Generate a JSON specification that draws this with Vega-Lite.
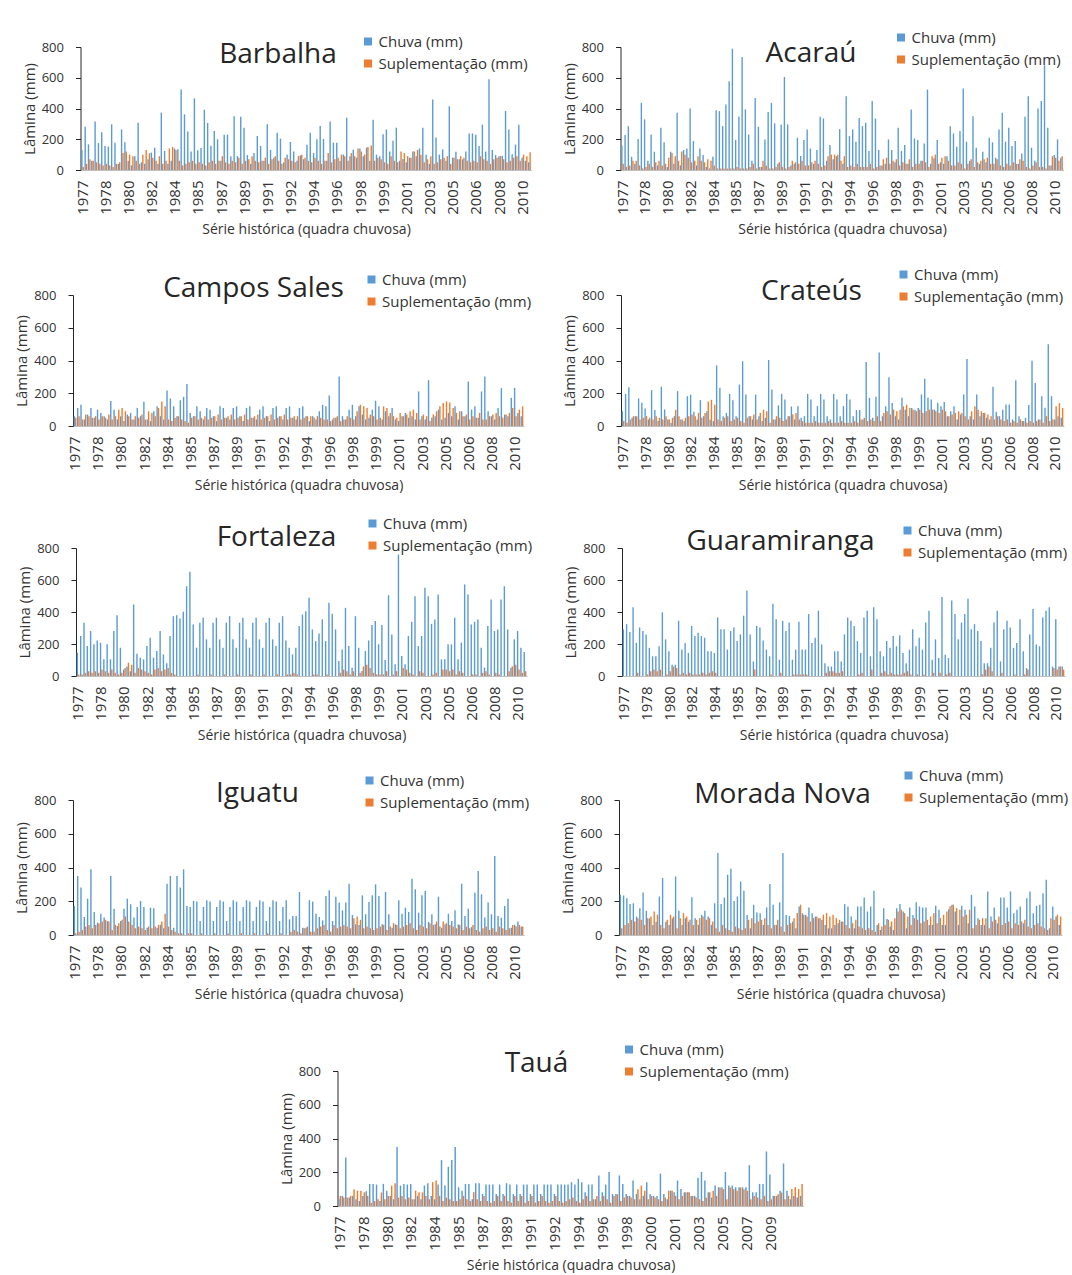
{
"$schema":"https://vega.github.io/schema/vega-lite/v6.json",
"background":"white",
"padding":{"left":14,"top":30,"right":0,"bottom":0},
"config":{
 "font":"Open Sans",
 "view":{"stroke":null},
 "title":{"anchor":"middle","frame":"group","baseline":"middle","fontSize":28,"fontWeight":"normal","color":"#262626","font":"Open Sans"},
 "axisX":{"labelAngle":-90,"labelFontSize":15,"ticks":false,"domainColor":"#bfbfbf","titleFontSize":14,"titleFontWeight":"normal","labelPadding":10,"titlePadding":8,"grid":false,"labelColor":"#333333","titleColor":"#333333","labelOverlap":false,"labelFlush":false},
 "axisY":{"grid":false,"tickSize":5,"labelPadding":12,"labelFontSize":13,"domainColor":"#262626","tickColor":"#262626","labelColor":"#333333","titleColor":"#333333","titleFontSize":15,"titleFontWeight":"normal","titlePadding":4},
 "legend":{"orient":"none","symbolType":"square","symbolSize":64,"labelFontSize":15,"rowPadding":6,"labelOffset":3,"symbolStrokeWidth":0,"labelColor":"#333333"}
},
"datasets":{
"Barbalha":[{"i":0,"c":130,"p":20},{"i":1,"c":282,"p":40},{"i":2,"c":167,"p":70},{"i":3,"c":60,"p":60},{"i":4,"c":316,"p":50},{"i":5,"c":175,"p":40},{"i":6,"c":245,"p":30},{"i":7,"c":156,"p":40},{"i":8,"c":152,"p":30},{"i":9,"c":297,"p":20},{"i":10,"c":178,"p":40},{"i":11,"c":40,"p":50},{"i":12,"c":264,"p":110},{"i":13,"c":180,"p":120},{"i":14,"c":60,"p":100},{"i":15,"c":30,"p":90},{"i":16,"c":90,"p":60},{"i":17,"c":308,"p":40},{"i":18,"c":50,"p":100},{"i":19,"c":40,"p":130},{"i":20,"c":70,"p":110},{"i":21,"c":113,"p":80},{"i":22,"c":145,"p":60},{"i":23,"c":40,"p":90},{"i":24,"c":373,"p":40},{"i":25,"c":124,"p":60},{"i":26,"c":40,"p":140},{"i":27,"c":60,"p":150},{"i":28,"c":140,"p":130},{"i":29,"c":135,"p":60},{"i":30,"c":524,"p":30},{"i":31,"c":362,"p":40},{"i":32,"c":251,"p":50},{"i":33,"c":120,"p":60},{"i":34,"c":466,"p":40},{"i":35,"c":128,"p":50},{"i":36,"c":143,"p":40},{"i":37,"c":392,"p":30},{"i":38,"c":306,"p":50},{"i":39,"c":158,"p":60},{"i":40,"c":254,"p":40},{"i":41,"c":200,"p":60},{"i":42,"c":60,"p":90},{"i":43,"c":230,"p":50},{"i":44,"c":230,"p":40},{"i":45,"c":90,"p":60},{"i":46,"c":349,"p":50},{"i":47,"c":90,"p":80},{"i":48,"c":347,"p":40},{"i":49,"c":275,"p":60},{"i":50,"c":97,"p":70},{"i":51,"c":40,"p":90},{"i":52,"c":110,"p":60},{"i":53,"c":221,"p":50},{"i":54,"c":156,"p":60},{"i":55,"c":60,"p":80},{"i":56,"c":297,"p":40},{"i":57,"c":130,"p":70},{"i":58,"c":80,"p":90},{"i":59,"c":243,"p":60},{"i":60,"c":204,"p":40},{"i":61,"c":50,"p":80},{"i":62,"c":100,"p":70},{"i":63,"c":182,"p":60},{"i":64,"c":120,"p":50},{"i":65,"c":60,"p":90},{"i":66,"c":95,"p":100},{"i":67,"c":70,"p":80},{"i":68,"c":165,"p":60},{"i":69,"c":243,"p":50},{"i":70,"c":110,"p":80},{"i":71,"c":200,"p":60},{"i":72,"c":286,"p":40},{"i":73,"c":202,"p":60},{"i":74,"c":60,"p":110},{"i":75,"c":316,"p":50},{"i":76,"c":178,"p":70},{"i":77,"c":178,"p":80},{"i":78,"c":60,"p":100},{"i":79,"c":100,"p":90},{"i":80,"c":340,"p":60},{"i":81,"c":90,"p":110},{"i":82,"c":132,"p":90},{"i":83,"c":80,"p":140},{"i":84,"c":140,"p":120},{"i":85,"c":90,"p":100},{"i":86,"c":145,"p":150},{"i":87,"c":60,"p":160},{"i":88,"c":327,"p":60},{"i":89,"c":100,"p":80},{"i":90,"c":90,"p":70},{"i":91,"c":232,"p":50},{"i":92,"c":264,"p":40},{"i":93,"c":120,"p":90},{"i":94,"c":191,"p":60},{"i":95,"c":275,"p":50},{"i":96,"c":60,"p":120},{"i":97,"c":72,"p":110},{"i":98,"c":50,"p":90},{"i":99,"c":80,"p":80},{"i":100,"c":120,"p":120},{"i":101,"c":90,"p":130},{"i":102,"c":140,"p":100},{"i":103,"c":275,"p":50},{"i":104,"c":100,"p":70},{"i":105,"c":40,"p":90},{"i":106,"c":459,"p":40},{"i":107,"c":212,"p":50},{"i":108,"c":100,"p":70},{"i":109,"c":134,"p":80},{"i":110,"c":60,"p":90},{"i":111,"c":414,"p":40},{"i":112,"c":80,"p":80},{"i":113,"c":119,"p":70},{"i":114,"c":70,"p":90},{"i":115,"c":69,"p":80},{"i":116,"c":120,"p":60},{"i":117,"c":238,"p":50},{"i":118,"c":238,"p":60},{"i":119,"c":230,"p":50},{"i":120,"c":156,"p":90},{"i":121,"c":295,"p":70},{"i":122,"c":120,"p":60},{"i":123,"c":590,"p":40},{"i":124,"c":130,"p":70},{"i":125,"c":97,"p":80},{"i":126,"c":90,"p":90},{"i":127,"c":91,"p":70},{"i":128,"c":384,"p":50},{"i":129,"c":264,"p":60},{"i":130,"c":102,"p":80},{"i":131,"c":165,"p":90},{"i":132,"c":295,"p":60},{"i":133,"c":80,"p":100},{"i":134,"c":60,"p":90},{"i":135,"c":50,"p":115}],
"Acarau":[{"i":0,"c":160,"p":40},{"i":1,"c":227,"p":20},{"i":2,"c":285,"p":30},{"i":3,"c":86,"p":60},{"i":4,"c":40,"p":60},{"i":5,"c":201,"p":30},{"i":6,"c":437,"p":10},{"i":7,"c":329,"p":20},{"i":8,"c":60,"p":40},{"i":9,"c":231,"p":20},{"i":10,"c":119,"p":50},{"i":11,"c":30,"p":60},{"i":12,"c":275,"p":30},{"i":13,"c":180,"p":40},{"i":14,"c":20,"p":80},{"i":15,"c":119,"p":110},{"i":16,"c":40,"p":90},{"i":17,"c":372,"p":60},{"i":18,"c":30,"p":120},{"i":19,"c":130,"p":100},{"i":20,"c":140,"p":80},{"i":21,"c":400,"p":50},{"i":22,"c":188,"p":60},{"i":23,"c":30,"p":90},{"i":24,"c":140,"p":60},{"i":25,"c":97,"p":50},{"i":26,"c":20,"p":70},{"i":27,"c":10,"p":60},{"i":28,"c":86,"p":30},{"i":29,"c":389,"p":10},{"i":30,"c":383,"p":10},{"i":31,"c":285,"p":10},{"i":32,"c":426,"p":10},{"i":33,"c":577,"p":10},{"i":34,"c":789,"p":10},{"i":35,"c":195,"p":20},{"i":36,"c":348,"p":10},{"i":37,"c":735,"p":10},{"i":38,"c":394,"p":10},{"i":39,"c":231,"p":20},{"i":40,"c":60,"p":40},{"i":41,"c":469,"p":10},{"i":42,"c":281,"p":20},{"i":43,"c":20,"p":60},{"i":44,"c":199,"p":30},{"i":45,"c":378,"p":10},{"i":46,"c":437,"p":10},{"i":47,"c":303,"p":20},{"i":48,"c":40,"p":50},{"i":49,"c":296,"p":20},{"i":50,"c":605,"p":10},{"i":51,"c":296,"p":20},{"i":52,"c":30,"p":60},{"i":53,"c":40,"p":50},{"i":54,"c":210,"p":40},{"i":55,"c":91,"p":60},{"i":56,"c":195,"p":30},{"i":57,"c":264,"p":30},{"i":58,"c":140,"p":50},{"i":59,"c":40,"p":60},{"i":60,"c":130,"p":40},{"i":61,"c":346,"p":20},{"i":62,"c":335,"p":30},{"i":63,"c":60,"p":90},{"i":64,"c":162,"p":100},{"i":65,"c":70,"p":100},{"i":66,"c":90,"p":100},{"i":67,"c":266,"p":60},{"i":68,"c":40,"p":90},{"i":69,"c":480,"p":20},{"i":70,"c":220,"p":30},{"i":71,"c":264,"p":20},{"i":72,"c":184,"p":40},{"i":73,"c":339,"p":20},{"i":74,"c":285,"p":20},{"i":75,"c":307,"p":20},{"i":76,"c":123,"p":40},{"i":77,"c":448,"p":10},{"i":78,"c":335,"p":20},{"i":79,"c":130,"p":30},{"i":80,"c":30,"p":70},{"i":81,"c":40,"p":80},{"i":82,"c":199,"p":40},{"i":83,"c":130,"p":60},{"i":84,"c":50,"p":70},{"i":85,"c":275,"p":30},{"i":86,"c":123,"p":50},{"i":87,"c":162,"p":40},{"i":88,"c":40,"p":70},{"i":89,"c":394,"p":20},{"i":90,"c":205,"p":40},{"i":91,"c":195,"p":40},{"i":92,"c":60,"p":60},{"i":93,"c":173,"p":50},{"i":94,"c":523,"p":20},{"i":95,"c":40,"p":90},{"i":96,"c":76,"p":100},{"i":97,"c":195,"p":40},{"i":98,"c":50,"p":80},{"i":99,"c":40,"p":90},{"i":100,"c":90,"p":60},{"i":101,"c":285,"p":30},{"i":102,"c":238,"p":30},{"i":103,"c":151,"p":50},{"i":104,"c":253,"p":40},{"i":105,"c":530,"p":10},{"i":106,"c":184,"p":40},{"i":107,"c":60,"p":70},{"i":108,"c":350,"p":20},{"i":109,"c":145,"p":50},{"i":110,"c":40,"p":60},{"i":111,"c":119,"p":70},{"i":112,"c":50,"p":80},{"i":113,"c":210,"p":40},{"i":114,"c":180,"p":40},{"i":115,"c":80,"p":70},{"i":116,"c":264,"p":30},{"i":117,"c":372,"p":20},{"i":118,"c":184,"p":40},{"i":119,"c":275,"p":30},{"i":120,"c":156,"p":50},{"i":121,"c":188,"p":40},{"i":122,"c":40,"p":70},{"i":123,"c":108,"p":60},{"i":124,"c":346,"p":20},{"i":125,"c":480,"p":10},{"i":126,"c":145,"p":30},{"i":127,"c":60,"p":50},{"i":128,"c":400,"p":20},{"i":129,"c":448,"p":20},{"i":130,"c":681,"p":10},{"i":131,"c":275,"p":30},{"i":132,"c":30,"p":90},{"i":133,"c":97,"p":80},{"i":134,"c":199,"p":60},{"i":135,"c":80,"p":90}],
"CamposSales":[{"i":0,"c":60,"p":50},{"i":1,"c":110,"p":60},{"i":2,"c":130,"p":40},{"i":3,"c":40,"p":70},{"i":4,"c":70,"p":60},{"i":5,"c":110,"p":50},{"i":6,"c":50,"p":60},{"i":7,"c":100,"p":40},{"i":8,"c":80,"p":60},{"i":9,"c":60,"p":50},{"i":10,"c":40,"p":70},{"i":11,"c":152,"p":40},{"i":12,"c":100,"p":60},{"i":13,"c":40,"p":100},{"i":14,"c":60,"p":110},{"i":15,"c":30,"p":90},{"i":16,"c":70,"p":60},{"i":17,"c":80,"p":40},{"i":18,"c":40,"p":60},{"i":19,"c":110,"p":50},{"i":20,"c":60,"p":70},{"i":21,"c":148,"p":40},{"i":22,"c":40,"p":90},{"i":23,"c":30,"p":80},{"i":24,"c":90,"p":60},{"i":25,"c":120,"p":110},{"i":26,"c":60,"p":150},{"i":27,"c":40,"p":120},{"i":28,"c":217,"p":40},{"i":29,"c":168,"p":30},{"i":30,"c":120,"p":50},{"i":31,"c":60,"p":60},{"i":32,"c":158,"p":40},{"i":33,"c":178,"p":30},{"i":34,"c":256,"p":20},{"i":35,"c":80,"p":50},{"i":36,"c":60,"p":60},{"i":37,"c":120,"p":40},{"i":38,"c":90,"p":50},{"i":39,"c":40,"p":60},{"i":40,"c":110,"p":40},{"i":41,"c":100,"p":50},{"i":42,"c":60,"p":60},{"i":43,"c":30,"p":70},{"i":44,"c":120,"p":40},{"i":45,"c":110,"p":50},{"i":46,"c":50,"p":60},{"i":47,"c":40,"p":70},{"i":48,"c":110,"p":40},{"i":49,"c":120,"p":50},{"i":50,"c":60,"p":60},{"i":51,"c":30,"p":70},{"i":52,"c":110,"p":40},{"i":53,"c":120,"p":50},{"i":54,"c":50,"p":60},{"i":55,"c":40,"p":70},{"i":56,"c":100,"p":40},{"i":57,"c":120,"p":50},{"i":58,"c":60,"p":60},{"i":59,"c":30,"p":70},{"i":60,"c":110,"p":40},{"i":61,"c":120,"p":50},{"i":62,"c":60,"p":60},{"i":63,"c":40,"p":70},{"i":64,"c":110,"p":40},{"i":65,"c":120,"p":50},{"i":66,"c":50,"p":60},{"i":67,"c":40,"p":60},{"i":68,"c":110,"p":40},{"i":69,"c":120,"p":50},{"i":70,"c":60,"p":60},{"i":71,"c":30,"p":60},{"i":72,"c":60,"p":50},{"i":73,"c":40,"p":60},{"i":74,"c":90,"p":50},{"i":75,"c":130,"p":40},{"i":76,"c":120,"p":40},{"i":77,"c":187,"p":30},{"i":78,"c":40,"p":50},{"i":79,"c":50,"p":60},{"i":80,"c":302,"p":30},{"i":81,"c":60,"p":40},{"i":82,"c":40,"p":60},{"i":83,"c":100,"p":50},{"i":84,"c":130,"p":40},{"i":85,"c":60,"p":90},{"i":86,"c":120,"p":130},{"i":87,"c":70,"p":120},{"i":88,"c":40,"p":110},{"i":89,"c":50,"p":70},{"i":90,"c":100,"p":60},{"i":91,"c":154,"p":40},{"i":92,"c":120,"p":50},{"i":93,"c":40,"p":120},{"i":94,"c":90,"p":110},{"i":95,"c":60,"p":80},{"i":96,"c":110,"p":60},{"i":97,"c":40,"p":50},{"i":98,"c":30,"p":80},{"i":99,"c":60,"p":60},{"i":100,"c":80,"p":70},{"i":101,"c":50,"p":90},{"i":102,"c":60,"p":100},{"i":103,"c":40,"p":80},{"i":104,"c":211,"p":40},{"i":105,"c":60,"p":70},{"i":106,"c":40,"p":60},{"i":107,"c":280,"p":30},{"i":108,"c":50,"p":70},{"i":109,"c":60,"p":90},{"i":110,"c":100,"p":120},{"i":111,"c":40,"p":140},{"i":112,"c":50,"p":150},{"i":113,"c":80,"p":144},{"i":114,"c":60,"p":110},{"i":115,"c":120,"p":80},{"i":116,"c":40,"p":90},{"i":117,"c":90,"p":60},{"i":118,"c":60,"p":70},{"i":119,"c":272,"p":40},{"i":120,"c":100,"p":60},{"i":121,"c":120,"p":50},{"i":122,"c":50,"p":80},{"i":123,"c":211,"p":40},{"i":124,"c":302,"p":40},{"i":125,"c":90,"p":60},{"i":126,"c":60,"p":70},{"i":127,"c":40,"p":80},{"i":128,"c":110,"p":60},{"i":129,"c":231,"p":50},{"i":130,"c":70,"p":70},{"i":131,"c":60,"p":80},{"i":132,"c":172,"p":110},{"i":133,"c":233,"p":60},{"i":134,"c":80,"p":100},{"i":135,"c":60,"p":120}],
"Crateus":[{"i":0,"c":90,"p":30},{"i":1,"c":196,"p":20},{"i":2,"c":237,"p":40},{"i":3,"c":50,"p":60},{"i":4,"c":60,"p":60},{"i":5,"c":168,"p":40},{"i":6,"c":142,"p":50},{"i":7,"c":107,"p":60},{"i":8,"c":40,"p":50},{"i":9,"c":219,"p":40},{"i":10,"c":97,"p":60},{"i":11,"c":30,"p":50},{"i":12,"c":241,"p":40},{"i":13,"c":101,"p":60},{"i":14,"c":40,"p":40},{"i":15,"c":20,"p":50},{"i":16,"c":60,"p":100},{"i":17,"c":213,"p":60},{"i":18,"c":40,"p":40},{"i":19,"c":30,"p":50},{"i":20,"c":182,"p":60},{"i":21,"c":192,"p":70},{"i":22,"c":87,"p":60},{"i":23,"c":40,"p":80},{"i":24,"c":158,"p":50},{"i":25,"c":60,"p":80},{"i":26,"c":90,"p":150},{"i":27,"c":40,"p":160},{"i":28,"c":30,"p":130},{"i":29,"c":370,"p":40},{"i":30,"c":233,"p":30},{"i":31,"c":60,"p":50},{"i":32,"c":80,"p":60},{"i":33,"c":196,"p":30},{"i":34,"c":158,"p":40},{"i":35,"c":60,"p":50},{"i":36,"c":253,"p":30},{"i":37,"c":395,"p":20},{"i":38,"c":192,"p":50},{"i":39,"c":60,"p":60},{"i":40,"c":40,"p":70},{"i":41,"c":192,"p":40},{"i":42,"c":60,"p":80},{"i":43,"c":30,"p":100},{"i":44,"c":50,"p":90},{"i":45,"c":403,"p":20},{"i":46,"c":223,"p":40},{"i":47,"c":40,"p":60},{"i":48,"c":126,"p":50},{"i":49,"c":196,"p":30},{"i":50,"c":162,"p":40},{"i":51,"c":60,"p":60},{"i":52,"c":119,"p":70},{"i":53,"c":40,"p":80},{"i":54,"c":121,"p":40},{"i":55,"c":50,"p":30},{"i":56,"c":60,"p":20},{"i":57,"c":196,"p":20},{"i":58,"c":162,"p":20},{"i":59,"c":60,"p":30},{"i":60,"c":121,"p":20},{"i":61,"c":196,"p":20},{"i":62,"c":162,"p":20},{"i":63,"c":60,"p":30},{"i":64,"c":40,"p":20},{"i":65,"c":196,"p":20},{"i":66,"c":162,"p":20},{"i":67,"c":60,"p":30},{"i":68,"c":121,"p":20},{"i":69,"c":196,"p":20},{"i":70,"c":162,"p":20},{"i":71,"c":60,"p":30},{"i":72,"c":97,"p":20},{"i":73,"c":97,"p":40},{"i":74,"c":40,"p":50},{"i":75,"c":391,"p":30},{"i":76,"c":172,"p":40},{"i":77,"c":50,"p":30},{"i":78,"c":178,"p":60},{"i":79,"c":449,"p":30},{"i":80,"c":60,"p":80},{"i":81,"c":121,"p":90},{"i":82,"c":298,"p":70},{"i":83,"c":140,"p":100},{"i":84,"c":60,"p":90},{"i":85,"c":40,"p":100},{"i":86,"c":172,"p":120},{"i":87,"c":100,"p":130},{"i":88,"c":60,"p":110},{"i":89,"c":110,"p":100},{"i":90,"c":100,"p":90},{"i":91,"c":110,"p":100},{"i":92,"c":192,"p":80},{"i":93,"c":289,"p":90},{"i":94,"c":172,"p":100},{"i":95,"c":162,"p":100},{"i":96,"c":100,"p":90},{"i":97,"c":142,"p":80},{"i":98,"c":120,"p":100},{"i":99,"c":146,"p":90},{"i":100,"c":60,"p":60},{"i":101,"c":90,"p":70},{"i":102,"c":121,"p":80},{"i":103,"c":40,"p":90},{"i":104,"c":70,"p":80},{"i":105,"c":192,"p":60},{"i":106,"c":409,"p":40},{"i":107,"c":60,"p":90},{"i":108,"c":40,"p":120},{"i":109,"c":192,"p":100},{"i":110,"c":60,"p":90},{"i":111,"c":80,"p":80},{"i":112,"c":50,"p":70},{"i":113,"c":40,"p":60},{"i":114,"c":239,"p":40},{"i":115,"c":87,"p":60},{"i":116,"c":60,"p":40},{"i":117,"c":100,"p":30},{"i":118,"c":132,"p":40},{"i":119,"c":132,"p":20},{"i":120,"c":40,"p":30},{"i":121,"c":279,"p":20},{"i":122,"c":60,"p":40},{"i":123,"c":30,"p":30},{"i":124,"c":50,"p":20},{"i":125,"c":128,"p":30},{"i":126,"c":399,"p":20},{"i":127,"c":263,"p":30},{"i":128,"c":40,"p":40},{"i":129,"c":182,"p":20},{"i":130,"c":111,"p":60},{"i":131,"c":500,"p":30},{"i":132,"c":182,"p":40},{"i":133,"c":40,"p":120},{"i":134,"c":60,"p":140},{"i":135,"c":50,"p":110}],
"Fortaleza":[{"i":0,"c":146,"p":10},{"i":1,"c":250,"p":10},{"i":2,"c":333,"p":20},{"i":3,"c":187,"p":30},{"i":4,"c":281,"p":20},{"i":5,"c":198,"p":30},{"i":6,"c":222,"p":20},{"i":7,"c":208,"p":40},{"i":8,"c":104,"p":30},{"i":9,"c":198,"p":20},{"i":10,"c":104,"p":40},{"i":11,"c":281,"p":20},{"i":12,"c":380,"p":10},{"i":13,"c":177,"p":20},{"i":14,"c":40,"p":50},{"i":15,"c":60,"p":83},{"i":16,"c":30,"p":70},{"i":17,"c":447,"p":20},{"i":18,"c":139,"p":50},{"i":19,"c":114,"p":40},{"i":20,"c":104,"p":30},{"i":21,"c":187,"p":20},{"i":22,"c":239,"p":10},{"i":23,"c":114,"p":40},{"i":24,"c":156,"p":50},{"i":25,"c":281,"p":30},{"i":26,"c":135,"p":40},{"i":27,"c":80,"p":50},{"i":28,"c":250,"p":20},{"i":29,"c":374,"p":10},{"i":30,"c":380,"p":0},{"i":31,"c":360,"p":0},{"i":32,"c":401,"p":0},{"i":33,"c":561,"p":0},{"i":34,"c":651,"p":0},{"i":35,"c":322,"p":0},{"i":36,"c":177,"p":10},{"i":37,"c":333,"p":0},{"i":38,"c":364,"p":0},{"i":39,"c":229,"p":0},{"i":40,"c":177,"p":10},{"i":41,"c":333,"p":0},{"i":42,"c":364,"p":0},{"i":43,"c":229,"p":0},{"i":44,"c":177,"p":10},{"i":45,"c":333,"p":0},{"i":46,"c":374,"p":0},{"i":47,"c":229,"p":0},{"i":48,"c":177,"p":10},{"i":49,"c":333,"p":0},{"i":50,"c":364,"p":0},{"i":51,"c":229,"p":0},{"i":52,"c":177,"p":10},{"i":53,"c":333,"p":0},{"i":54,"c":364,"p":0},{"i":55,"c":229,"p":0},{"i":56,"c":177,"p":10},{"i":57,"c":333,"p":0},{"i":58,"c":364,"p":0},{"i":59,"c":229,"p":0},{"i":60,"c":187,"p":10},{"i":61,"c":333,"p":0},{"i":62,"c":374,"p":0},{"i":63,"c":222,"p":10},{"i":64,"c":177,"p":10},{"i":65,"c":135,"p":20},{"i":66,"c":177,"p":10},{"i":67,"c":312,"p":0},{"i":68,"c":384,"p":0},{"i":69,"c":405,"p":0},{"i":70,"c":489,"p":0},{"i":71,"c":291,"p":10},{"i":72,"c":218,"p":10},{"i":73,"c":266,"p":0},{"i":74,"c":354,"p":0},{"i":75,"c":218,"p":10},{"i":76,"c":458,"p":0},{"i":77,"c":389,"p":0},{"i":78,"c":291,"p":0},{"i":79,"c":94,"p":20},{"i":80,"c":166,"p":40},{"i":81,"c":426,"p":30},{"i":82,"c":187,"p":10},{"i":83,"c":52,"p":30},{"i":84,"c":374,"p":0},{"i":85,"c":177,"p":20},{"i":86,"c":31,"p":60},{"i":87,"c":156,"p":70},{"i":88,"c":222,"p":50},{"i":89,"c":318,"p":20},{"i":90,"c":343,"p":10},{"i":91,"c":198,"p":10},{"i":92,"c":318,"p":10},{"i":93,"c":100,"p":30},{"i":94,"c":505,"p":0},{"i":95,"c":260,"p":10},{"i":96,"c":73,"p":30},{"i":97,"c":759,"p":0},{"i":98,"c":125,"p":50},{"i":99,"c":73,"p":40},{"i":100,"c":250,"p":20},{"i":101,"c":339,"p":10},{"i":102,"c":499,"p":0},{"i":103,"c":187,"p":30},{"i":104,"c":250,"p":20},{"i":105,"c":551,"p":0},{"i":106,"c":499,"p":0},{"i":107,"c":326,"p":10},{"i":108,"c":353,"p":20},{"i":109,"c":509,"p":0},{"i":110,"c":104,"p":40},{"i":111,"c":104,"p":40},{"i":112,"c":198,"p":30},{"i":113,"c":198,"p":40},{"i":114,"c":364,"p":10},{"i":115,"c":104,"p":30},{"i":116,"c":208,"p":20},{"i":117,"c":572,"p":0},{"i":118,"c":509,"p":0},{"i":119,"c":322,"p":10},{"i":120,"c":339,"p":10},{"i":121,"c":353,"p":0},{"i":122,"c":177,"p":20},{"i":123,"c":52,"p":30},{"i":124,"c":312,"p":10},{"i":125,"c":478,"p":0},{"i":126,"c":281,"p":20},{"i":127,"c":291,"p":10},{"i":128,"c":478,"p":0},{"i":129,"c":561,"p":0},{"i":130,"c":291,"p":30},{"i":131,"c":52,"p":60},{"i":132,"c":229,"p":70},{"i":133,"c":281,"p":40},{"i":134,"c":177,"p":20},{"i":135,"c":150,"p":30}],
"Guaramiranga":[{"i":0,"c":292,"p":0},{"i":1,"c":324,"p":0},{"i":2,"c":275,"p":0},{"i":3,"c":430,"p":0},{"i":4,"c":207,"p":20},{"i":5,"c":303,"p":0},{"i":6,"c":281,"p":0},{"i":7,"c":260,"p":10},{"i":8,"c":176,"p":30},{"i":9,"c":123,"p":40},{"i":10,"c":123,"p":30},{"i":11,"c":186,"p":40},{"i":12,"c":398,"p":0},{"i":13,"c":229,"p":10},{"i":14,"c":154,"p":30},{"i":15,"c":70,"p":60},{"i":16,"c":70,"p":50},{"i":17,"c":345,"p":10},{"i":18,"c":165,"p":20},{"i":19,"c":207,"p":10},{"i":20,"c":144,"p":20},{"i":21,"c":313,"p":10},{"i":22,"c":250,"p":10},{"i":23,"c":271,"p":10},{"i":24,"c":250,"p":20},{"i":25,"c":239,"p":10},{"i":26,"c":154,"p":20},{"i":27,"c":154,"p":30},{"i":28,"c":144,"p":20},{"i":29,"c":366,"p":0},{"i":30,"c":292,"p":0},{"i":31,"c":292,"p":0},{"i":32,"c":165,"p":0},{"i":33,"c":281,"p":0},{"i":34,"c":303,"p":0},{"i":35,"c":218,"p":0},{"i":36,"c":260,"p":0},{"i":37,"c":377,"p":0},{"i":38,"c":535,"p":0},{"i":39,"c":260,"p":0},{"i":40,"c":91,"p":40},{"i":41,"c":313,"p":0},{"i":42,"c":303,"p":0},{"i":43,"c":222,"p":0},{"i":44,"c":165,"p":0},{"i":45,"c":123,"p":10},{"i":46,"c":451,"p":0},{"i":47,"c":355,"p":0},{"i":48,"c":102,"p":20},{"i":49,"c":345,"p":0},{"i":50,"c":281,"p":0},{"i":51,"c":334,"p":0},{"i":52,"c":102,"p":10},{"i":53,"c":165,"p":10},{"i":54,"c":339,"p":10},{"i":55,"c":165,"p":10},{"i":56,"c":165,"p":10},{"i":57,"c":387,"p":0},{"i":58,"c":207,"p":0},{"i":59,"c":239,"p":0},{"i":60,"c":408,"p":0},{"i":61,"c":197,"p":0},{"i":62,"c":80,"p":20},{"i":63,"c":59,"p":30},{"i":64,"c":59,"p":30},{"i":65,"c":154,"p":20},{"i":66,"c":154,"p":20},{"i":67,"c":91,"p":30},{"i":68,"c":260,"p":0},{"i":69,"c":366,"p":0},{"i":70,"c":345,"p":0},{"i":71,"c":313,"p":0},{"i":72,"c":218,"p":10},{"i":73,"c":144,"p":20},{"i":74,"c":366,"p":0},{"i":75,"c":408,"p":0},{"i":76,"c":123,"p":40},{"i":77,"c":430,"p":0},{"i":78,"c":355,"p":0},{"i":79,"c":154,"p":20},{"i":80,"c":123,"p":30},{"i":81,"c":218,"p":10},{"i":82,"c":176,"p":20},{"i":83,"c":250,"p":10},{"i":84,"c":186,"p":10},{"i":85,"c":254,"p":10},{"i":86,"c":144,"p":20},{"i":87,"c":80,"p":30},{"i":88,"c":165,"p":10},{"i":89,"c":292,"p":0},{"i":90,"c":186,"p":10},{"i":91,"c":239,"p":0},{"i":92,"c":165,"p":10},{"i":93,"c":334,"p":0},{"i":94,"c":408,"p":0},{"i":95,"c":102,"p":20},{"i":96,"c":229,"p":0},{"i":97,"c":112,"p":20},{"i":98,"c":493,"p":0},{"i":99,"c":133,"p":10},{"i":100,"c":112,"p":20},{"i":101,"c":472,"p":0},{"i":102,"c":387,"p":0},{"i":103,"c":229,"p":0},{"i":104,"c":334,"p":0},{"i":105,"c":387,"p":0},{"i":106,"c":483,"p":0},{"i":107,"c":292,"p":0},{"i":108,"c":324,"p":0},{"i":109,"c":281,"p":0},{"i":110,"c":218,"p":10},{"i":111,"c":80,"p":40},{"i":112,"c":80,"p":60},{"i":113,"c":176,"p":30},{"i":114,"c":334,"p":0},{"i":115,"c":408,"p":0},{"i":116,"c":91,"p":20},{"i":117,"c":292,"p":0},{"i":118,"c":345,"p":0},{"i":119,"c":303,"p":0},{"i":120,"c":176,"p":10},{"i":121,"c":207,"p":0},{"i":122,"c":355,"p":0},{"i":123,"c":154,"p":10},{"i":124,"c":49,"p":40},{"i":125,"c":260,"p":0},{"i":126,"c":419,"p":0},{"i":127,"c":197,"p":0},{"i":128,"c":186,"p":0},{"i":129,"c":366,"p":0},{"i":130,"c":408,"p":0},{"i":131,"c":430,"p":0},{"i":132,"c":59,"p":50},{"i":133,"c":355,"p":40},{"i":134,"c":59,"p":60},{"i":135,"c":60,"p":40}],
"Iguatu":[{"i":0,"c":172,"p":10},{"i":1,"c":350,"p":20},{"i":2,"c":281,"p":30},{"i":3,"c":107,"p":50},{"i":4,"c":215,"p":60},{"i":5,"c":389,"p":40},{"i":6,"c":136,"p":60},{"i":7,"c":73,"p":70},{"i":8,"c":126,"p":80},{"i":9,"c":103,"p":90},{"i":10,"c":83,"p":80},{"i":11,"c":350,"p":30},{"i":12,"c":156,"p":60},{"i":13,"c":53,"p":70},{"i":14,"c":83,"p":90},{"i":15,"c":156,"p":110},{"i":16,"c":215,"p":80},{"i":17,"c":182,"p":60},{"i":18,"c":103,"p":40},{"i":19,"c":166,"p":50},{"i":20,"c":202,"p":40},{"i":21,"c":166,"p":30},{"i":22,"c":43,"p":50},{"i":23,"c":162,"p":40},{"i":24,"c":158,"p":50},{"i":25,"c":43,"p":60},{"i":26,"c":60,"p":80},{"i":27,"c":40,"p":126},{"i":28,"c":304,"p":50},{"i":29,"c":350,"p":30},{"i":30,"c":43,"p":20},{"i":31,"c":350,"p":10},{"i":32,"c":281,"p":10},{"i":33,"c":389,"p":0},{"i":34,"c":172,"p":10},{"i":35,"c":166,"p":10},{"i":36,"c":202,"p":0},{"i":37,"c":198,"p":0},{"i":38,"c":83,"p":10},{"i":39,"c":166,"p":0},{"i":40,"c":206,"p":0},{"i":41,"c":198,"p":0},{"i":42,"c":83,"p":10},{"i":43,"c":166,"p":0},{"i":44,"c":206,"p":0},{"i":45,"c":198,"p":0},{"i":46,"c":83,"p":10},{"i":47,"c":166,"p":0},{"i":48,"c":206,"p":0},{"i":49,"c":198,"p":0},{"i":50,"c":83,"p":10},{"i":51,"c":166,"p":0},{"i":52,"c":206,"p":0},{"i":53,"c":198,"p":0},{"i":54,"c":83,"p":10},{"i":55,"c":166,"p":0},{"i":56,"c":206,"p":0},{"i":57,"c":198,"p":0},{"i":58,"c":83,"p":10},{"i":59,"c":166,"p":0},{"i":60,"c":206,"p":0},{"i":61,"c":198,"p":0},{"i":62,"c":83,"p":10},{"i":63,"c":166,"p":0},{"i":64,"c":206,"p":0},{"i":65,"c":93,"p":20},{"i":66,"c":113,"p":30},{"i":67,"c":113,"p":20},{"i":68,"c":255,"p":10},{"i":69,"c":43,"p":40},{"i":70,"c":43,"p":50},{"i":71,"c":206,"p":20},{"i":72,"c":198,"p":20},{"i":73,"c":126,"p":40},{"i":74,"c":107,"p":50},{"i":75,"c":87,"p":60},{"i":76,"c":231,"p":30},{"i":77,"c":265,"p":20},{"i":78,"c":83,"p":60},{"i":79,"c":227,"p":40},{"i":80,"c":192,"p":50},{"i":81,"c":146,"p":60},{"i":82,"c":192,"p":50},{"i":83,"c":304,"p":40},{"i":84,"c":119,"p":100},{"i":85,"c":63,"p":110},{"i":86,"c":59,"p":90},{"i":87,"c":235,"p":40},{"i":88,"c":123,"p":50},{"i":89,"c":196,"p":40},{"i":90,"c":235,"p":30},{"i":91,"c":300,"p":40},{"i":92,"c":231,"p":50},{"i":93,"c":63,"p":60},{"i":94,"c":255,"p":30},{"i":95,"c":123,"p":50},{"i":96,"c":43,"p":70},{"i":97,"c":63,"p":60},{"i":98,"c":206,"p":40},{"i":99,"c":126,"p":50},{"i":100,"c":162,"p":60},{"i":101,"c":136,"p":70},{"i":102,"c":334,"p":40},{"i":103,"c":271,"p":30},{"i":104,"c":132,"p":60},{"i":105,"c":235,"p":50},{"i":106,"c":261,"p":40},{"i":107,"c":77,"p":70},{"i":108,"c":123,"p":60},{"i":109,"c":63,"p":80},{"i":110,"c":227,"p":50},{"i":111,"c":43,"p":80},{"i":112,"c":63,"p":70},{"i":113,"c":126,"p":60},{"i":114,"c":83,"p":50},{"i":115,"c":146,"p":40},{"i":116,"c":63,"p":60},{"i":117,"c":304,"p":30},{"i":118,"c":113,"p":50},{"i":119,"c":156,"p":40},{"i":120,"c":47,"p":60},{"i":121,"c":251,"p":30},{"i":122,"c":379,"p":20},{"i":123,"c":241,"p":40},{"i":124,"c":103,"p":50},{"i":125,"c":192,"p":30},{"i":126,"c":123,"p":40},{"i":127,"c":468,"p":20},{"i":128,"c":113,"p":50},{"i":129,"c":103,"p":40},{"i":130,"c":172,"p":30},{"i":131,"c":215,"p":40},{"i":132,"c":43,"p":60},{"i":133,"c":60,"p":50},{"i":134,"c":80,"p":60},{"i":135,"c":50,"p":50}],
"MoradaNova":[{"i":0,"c":238,"p":40},{"i":1,"c":234,"p":60},{"i":2,"c":218,"p":70},{"i":3,"c":183,"p":90},{"i":4,"c":188,"p":80},{"i":5,"c":109,"p":100},{"i":6,"c":159,"p":90},{"i":7,"c":252,"p":60},{"i":8,"c":143,"p":100},{"i":9,"c":99,"p":110},{"i":10,"c":60,"p":140},{"i":11,"c":79,"p":120},{"i":12,"c":228,"p":60},{"i":13,"c":337,"p":40},{"i":14,"c":79,"p":90},{"i":15,"c":60,"p":120},{"i":16,"c":99,"p":110},{"i":17,"c":347,"p":40},{"i":18,"c":143,"p":100},{"i":19,"c":60,"p":130},{"i":20,"c":99,"p":110},{"i":21,"c":79,"p":90},{"i":22,"c":224,"p":60},{"i":23,"c":99,"p":90},{"i":24,"c":60,"p":100},{"i":25,"c":119,"p":110},{"i":26,"c":143,"p":90},{"i":27,"c":109,"p":100},{"i":28,"c":60,"p":80},{"i":29,"c":188,"p":40},{"i":30,"c":486,"p":20},{"i":31,"c":183,"p":60},{"i":32,"c":222,"p":40},{"i":33,"c":357,"p":30},{"i":34,"c":393,"p":20},{"i":35,"c":202,"p":50},{"i":36,"c":228,"p":40},{"i":37,"c":317,"p":30},{"i":38,"c":262,"p":40},{"i":39,"c":119,"p":90},{"i":40,"c":40,"p":100},{"i":41,"c":179,"p":70},{"i":42,"c":133,"p":80},{"i":43,"c":129,"p":90},{"i":44,"c":60,"p":100},{"i":45,"c":163,"p":60},{"i":46,"c":302,"p":40},{"i":47,"c":179,"p":60},{"i":48,"c":60,"p":90},{"i":49,"c":194,"p":50},{"i":50,"c":486,"p":20},{"i":51,"c":119,"p":60},{"i":52,"c":113,"p":70},{"i":53,"c":79,"p":100},{"i":54,"c":40,"p":130},{"i":55,"c":169,"p":180},{"i":56,"c":129,"p":120},{"i":57,"c":119,"p":110},{"i":58,"c":163,"p":80},{"i":59,"c":129,"p":100},{"i":60,"c":109,"p":110},{"i":61,"c":99,"p":100},{"i":62,"c":89,"p":120},{"i":63,"c":60,"p":130},{"i":64,"c":40,"p":110},{"i":65,"c":40,"p":120},{"i":66,"c":60,"p":100},{"i":67,"c":69,"p":90},{"i":68,"c":79,"p":80},{"i":69,"c":183,"p":60},{"i":70,"c":169,"p":40},{"i":71,"c":109,"p":70},{"i":72,"c":40,"p":90},{"i":73,"c":169,"p":50},{"i":74,"c":169,"p":40},{"i":75,"c":222,"p":30},{"i":76,"c":139,"p":40},{"i":77,"c":169,"p":30},{"i":78,"c":262,"p":20},{"i":79,"c":60,"p":70},{"i":80,"c":30,"p":50},{"i":81,"c":159,"p":60},{"i":82,"c":95,"p":90},{"i":83,"c":50,"p":80},{"i":84,"c":30,"p":100},{"i":85,"c":159,"p":140},{"i":86,"c":183,"p":150},{"i":87,"c":139,"p":130},{"i":88,"c":40,"p":110},{"i":89,"c":163,"p":60},{"i":90,"c":119,"p":100},{"i":91,"c":194,"p":90},{"i":92,"c":169,"p":70},{"i":93,"c":163,"p":80},{"i":94,"c":163,"p":90},{"i":95,"c":60,"p":110},{"i":96,"c":60,"p":130},{"i":97,"c":173,"p":70},{"i":98,"c":149,"p":100},{"i":99,"c":60,"p":120},{"i":100,"c":60,"p":140},{"i":101,"c":153,"p":170},{"i":102,"c":179,"p":180},{"i":103,"c":139,"p":160},{"i":104,"c":60,"p":150},{"i":105,"c":173,"p":110},{"i":106,"c":149,"p":120},{"i":107,"c":69,"p":150},{"i":108,"c":238,"p":40},{"i":109,"c":169,"p":60},{"i":110,"c":99,"p":90},{"i":111,"c":60,"p":100},{"i":112,"c":60,"p":100},{"i":113,"c":258,"p":40},{"i":114,"c":109,"p":80},{"i":115,"c":163,"p":90},{"i":116,"c":69,"p":110},{"i":117,"c":222,"p":60},{"i":118,"c":222,"p":70},{"i":119,"c":163,"p":80},{"i":120,"c":258,"p":40},{"i":121,"c":129,"p":70},{"i":122,"c":149,"p":60},{"i":123,"c":169,"p":80},{"i":124,"c":69,"p":90},{"i":125,"c":218,"p":50},{"i":126,"c":258,"p":40},{"i":127,"c":129,"p":60},{"i":128,"c":173,"p":70},{"i":129,"c":179,"p":50},{"i":130,"c":248,"p":40},{"i":131,"c":327,"p":30},{"i":132,"c":40,"p":100},{"i":133,"c":169,"p":90},{"i":134,"c":109,"p":120},{"i":135,"c":60,"p":110}],
"Taua":[{"i":0,"c":40,"p":60},{"i":1,"c":60,"p":50},{"i":2,"c":288,"p":50},{"i":3,"c":50,"p":60},{"i":4,"c":60,"p":100},{"i":5,"c":40,"p":91},{"i":6,"c":30,"p":91},{"i":7,"c":60,"p":81},{"i":8,"c":87,"p":60},{"i":9,"c":131,"p":20},{"i":10,"c":131,"p":30},{"i":11,"c":127,"p":40},{"i":12,"c":30,"p":80},{"i":13,"c":131,"p":40},{"i":14,"c":91,"p":60},{"i":15,"c":60,"p":121},{"i":16,"c":40,"p":135},{"i":17,"c":349,"p":50},{"i":18,"c":121,"p":60},{"i":19,"c":131,"p":40},{"i":20,"c":127,"p":50},{"i":21,"c":131,"p":40},{"i":22,"c":40,"p":91},{"i":23,"c":60,"p":81},{"i":24,"c":40,"p":81},{"i":25,"c":121,"p":60},{"i":26,"c":135,"p":40},{"i":27,"c":60,"p":141},{"i":28,"c":40,"p":151},{"i":29,"c":127,"p":60},{"i":30,"c":272,"p":30},{"i":31,"c":121,"p":50},{"i":32,"c":232,"p":40},{"i":33,"c":272,"p":30},{"i":34,"c":349,"p":30},{"i":35,"c":111,"p":40},{"i":36,"c":91,"p":60},{"i":37,"c":131,"p":40},{"i":38,"c":131,"p":30},{"i":39,"c":40,"p":81},{"i":40,"c":135,"p":40},{"i":41,"c":135,"p":30},{"i":42,"c":71,"p":60},{"i":43,"c":127,"p":30},{"i":44,"c":127,"p":20},{"i":45,"c":127,"p":30},{"i":46,"c":71,"p":60},{"i":47,"c":127,"p":30},{"i":48,"c":71,"p":60},{"i":49,"c":135,"p":30},{"i":50,"c":127,"p":20},{"i":51,"c":71,"p":60},{"i":52,"c":127,"p":30},{"i":53,"c":71,"p":60},{"i":54,"c":127,"p":20},{"i":55,"c":127,"p":30},{"i":56,"c":71,"p":60},{"i":57,"c":127,"p":20},{"i":58,"c":127,"p":30},{"i":59,"c":71,"p":60},{"i":60,"c":127,"p":30},{"i":61,"c":127,"p":20},{"i":62,"c":127,"p":30},{"i":63,"c":71,"p":60},{"i":64,"c":127,"p":30},{"i":65,"c":127,"p":20},{"i":66,"c":127,"p":30},{"i":67,"c":127,"p":40},{"i":68,"c":141,"p":50},{"i":69,"c":127,"p":30},{"i":70,"c":161,"p":20},{"i":71,"c":141,"p":40},{"i":72,"c":81,"p":60},{"i":73,"c":127,"p":30},{"i":74,"c":127,"p":40},{"i":75,"c":40,"p":60},{"i":76,"c":181,"p":30},{"i":77,"c":81,"p":60},{"i":78,"c":127,"p":40},{"i":79,"c":202,"p":20},{"i":80,"c":71,"p":60},{"i":81,"c":71,"p":70},{"i":82,"c":181,"p":30},{"i":83,"c":131,"p":50},{"i":84,"c":71,"p":60},{"i":85,"c":60,"p":50},{"i":86,"c":151,"p":40},{"i":87,"c":71,"p":100},{"i":88,"c":40,"p":121},{"i":89,"c":60,"p":90},{"i":90,"c":141,"p":40},{"i":91,"c":71,"p":60},{"i":92,"c":60,"p":50},{"i":93,"c":60,"p":40},{"i":94,"c":192,"p":30},{"i":95,"c":71,"p":50},{"i":96,"c":40,"p":91},{"i":97,"c":91,"p":91},{"i":98,"c":81,"p":60},{"i":99,"c":151,"p":40},{"i":100,"c":101,"p":60},{"i":101,"c":81,"p":81},{"i":102,"c":81,"p":81},{"i":103,"c":60,"p":60},{"i":104,"c":60,"p":50},{"i":105,"c":167,"p":40},{"i":106,"c":202,"p":30},{"i":107,"c":151,"p":50},{"i":108,"c":81,"p":81},{"i":109,"c":50,"p":90},{"i":110,"c":121,"p":60},{"i":111,"c":111,"p":110},{"i":112,"c":111,"p":100},{"i":113,"c":202,"p":40},{"i":114,"c":121,"p":110},{"i":115,"c":121,"p":100},{"i":116,"c":111,"p":90},{"i":117,"c":111,"p":110},{"i":118,"c":111,"p":100},{"i":119,"c":111,"p":90},{"i":120,"c":242,"p":40},{"i":121,"c":81,"p":60},{"i":122,"c":81,"p":50},{"i":123,"c":131,"p":40},{"i":124,"c":131,"p":60},{"i":125,"c":323,"p":30},{"i":126,"c":187,"p":40},{"i":127,"c":60,"p":60},{"i":128,"c":60,"p":70},{"i":129,"c":91,"p":80},{"i":130,"c":252,"p":40},{"i":131,"c":91,"p":60},{"i":132,"c":40,"p":101},{"i":133,"c":60,"p":111},{"i":134,"c":50,"p":100},{"i":135,"c":60,"p":131}]
},
"vconcat":[
{"hconcat":[
 {"width":451,"height":123,"data":{"name":"Barbalha"},"transform":[{"fold":["c","p"],"as":["k","v"]}],"title":{"text":"Barbalha","dx":-28,"offset":-35},"mark":{"type":"bar"},
  "encoding":{"x":{"field":"i","type":"ordinal","scale":{"paddingInner":0.15,"paddingOuter":0.2},"axis":{"title":"Série histórica (quadra chuvosa)","values":[0,7,14,21,28,35,42,49,56,63,70,77,84,91,98,105,112,119,126,133],"labelExpr":"floor(datum.value/4)+1977"}},"xOffset":{"field":"k","type":"nominal","scale":{"domain":["c","p"]}},"y":{"field":"v","type":"quantitative","scale":{"domain":[0,800]},"axis":{"title":"Lâmina (mm)","values":[0,200,400,600,800]}},"color":{"field":"k","type":"nominal","scale":{"domain":["c","p"],"range":["#5B9BD5","#ED7D31"]},"legend":{"title":null,"legendX":280,"legendY":-13,"labelExpr":"datum.value == 'c' ? 'Chuva (mm)' : 'Suplementação (mm)'"}}}},
 {"width":443,"height":123,"data":{"name":"Acarau"},"transform":[{"fold":["c","p"],"as":["k","v"]}],"title":{"text":"Acaraú","dx":-31,"offset":-38},"mark":{"type":"bar"},
  "encoding":{"x":{"field":"i","type":"ordinal","scale":{"paddingInner":0.15,"paddingOuter":0.2},"axis":{"title":"Série histórica (quadra chuvosa)","values":[0,7,14,21,28,35,42,49,56,63,70,77,84,91,98,105,112,119,126,133],"labelExpr":"floor(datum.value/4)+1977"}},"xOffset":{"field":"k","type":"nominal","scale":{"domain":["c","p"]}},"y":{"field":"v","type":"quantitative","scale":{"domain":[0,800]},"axis":{"title":"Lâmina (mm)","values":[0,200,400,600,800]}},"color":{"field":"k","type":"nominal","scale":{"domain":["c","p"],"range":["#5B9BD5","#ED7D31"]},"legend":{"title":null,"legendX":273,"legendY":-17,"labelExpr":"datum.value == 'c' ? 'Chuva (mm)' : 'Suplementação (mm)'"}}}}
 ],"spacing":30,"resolve":{"scale":{"x":"independent","y":"independent","color":"independent","xOffset":"independent"},"legend":{"color":"independent"},"axis":{"x":"independent","y":"independent"}}},
{"hconcat":[
 {"width":451,"height":131,"data":{"name":"CamposSales"},"transform":[{"fold":["c","p"],"as":["k","v"]}],"title":{"text":"Campos Sales","dx":-45,"offset":-31},"mark":{"type":"bar"},
  "encoding":{"x":{"field":"i","type":"ordinal","scale":{"paddingInner":0.15,"paddingOuter":0.2},"axis":{"title":"Série histórica (quadra chuvosa)","values":[0,7,14,21,28,35,42,49,56,63,70,77,84,91,98,105,112,119,126,133],"labelExpr":"floor(datum.value/4)+1977"}},"xOffset":{"field":"k","type":"nominal","scale":{"domain":["c","p"]}},"y":{"field":"v","type":"quantitative","scale":{"domain":[0,800]},"axis":{"title":"Lâmina (mm)","values":[0,200,400,600,800]}},"color":{"field":"k","type":"nominal","scale":{"domain":["c","p"],"range":["#5B9BD5","#ED7D31"]},"legend":{"title":null,"legendX":291,"legendY":-23,"labelExpr":"datum.value == 'c' ? 'Chuva (mm)' : 'Suplementação (mm)'"}}}},
 {"width":443,"height":131,"data":{"name":"Crateus"},"transform":[{"fold":["c","p"],"as":["k","v"]}],"title":{"text":"Crateús","dx":-31,"offset":-46},"mark":{"type":"bar"},
  "encoding":{"x":{"field":"i","type":"ordinal","scale":{"paddingInner":0.15,"paddingOuter":0.2},"axis":{"title":"Série histórica (quadra chuvosa)","values":[0,7,14,21,28,35,42,49,56,63,70,77,84,91,98,105,112,119,126,133],"labelExpr":"floor(datum.value/4)+1977"}},"xOffset":{"field":"k","type":"nominal","scale":{"domain":["c","p"]}},"y":{"field":"v","type":"quantitative","scale":{"domain":[0,800]},"axis":{"title":"Lâmina (mm)","values":[0,200,400,600,800]}},"color":{"field":"k","type":"nominal","scale":{"domain":["c","p"],"range":["#5B9BD5","#ED7D31"]},"legend":{"title":null,"padding":7,"legendX":268,"legendY":-35,"labelExpr":"datum.value == 'c' ? 'Chuva (mm)' : 'Suplementação (mm)'"}}}}
 ],"spacing":30,"resolve":{"scale":{"x":"independent","y":"independent","color":"independent","xOffset":"independent"},"legend":{"color":"independent"},"axis":{"x":"independent","y":"independent"}}},
{"hconcat":[
 {"width":451,"height":128,"data":{"name":"Fortaleza"},"transform":[{"fold":["c","p"],"as":["k","v"]}],"title":{"text":"Fortaleza","dx":-25,"offset":-36},"mark":{"type":"bar"},
  "encoding":{"x":{"field":"i","type":"ordinal","scale":{"paddingInner":0.15,"paddingOuter":0.2},"axis":{"title":"Série histórica (quadra chuvosa)","values":[0,7,14,21,28,35,42,49,56,63,70,77,84,91,98,105,112,119,126,133],"labelExpr":"floor(datum.value/4)+1977"}},"xOffset":{"field":"k","type":"nominal","scale":{"domain":["c","p"]}},"y":{"field":"v","type":"quantitative","scale":{"domain":[0,800]},"axis":{"title":"Lâmina (mm)","values":[0,200,400,600,800]}},"color":{"field":"k","type":"nominal","scale":{"domain":["c","p"],"range":["#5B9BD5","#ED7D31"]},"legend":{"title":null,"legendX":289,"legendY":-32,"labelExpr":"datum.value == 'c' ? 'Chuva (mm)' : 'Suplementação (mm)'"}}}},
 {"width":443,"height":128,"data":{"name":"Guaramiranga"},"transform":[{"fold":["c","p"],"as":["k","v"]}],"title":{"text":"Guaramiranga","dx":-63,"offset":-33},"mark":{"type":"bar"},
  "encoding":{"x":{"field":"i","type":"ordinal","scale":{"paddingInner":0.15,"paddingOuter":0.2},"axis":{"title":"Série histórica (quadra chuvosa)","values":[0,7,14,21,28,35,42,49,56,63,70,77,84,91,98,105,112,119,126,133],"labelExpr":"floor(datum.value/4)+1977"}},"xOffset":{"field":"k","type":"nominal","scale":{"domain":["c","p"]}},"y":{"field":"v","type":"quantitative","scale":{"domain":[0,800]},"axis":{"title":"Lâmina (mm)","values":[0,200,400,600,800]}},"color":{"field":"k","type":"nominal","scale":{"domain":["c","p"],"range":["#5B9BD5","#ED7D31"]},"legend":{"title":null,"legendX":278,"legendY":-25,"labelExpr":"datum.value == 'c' ? 'Chuva (mm)' : 'Suplementação (mm)'"}}}}
 ],"spacing":30,"resolve":{"scale":{"x":"independent","y":"independent","color":"independent","xOffset":"independent"},"legend":{"color":"independent"},"axis":{"x":"independent","y":"independent"}}},
{"hconcat":[
 {"width":451,"height":135,"data":{"name":"Iguatu"},"transform":[{"fold":["c","p"],"as":["k","v"]}],"title":{"text":"Iguatu","dx":-41,"offset":-35},"mark":{"type":"bar"},
  "encoding":{"x":{"field":"i","type":"ordinal","scale":{"paddingInner":0.15,"paddingOuter":0.2},"axis":{"title":"Série histórica (quadra chuvosa)","values":[0,7,14,21,28,35,42,49,56,63,70,77,84,91,98,105,112,119,126,133],"labelExpr":"floor(datum.value/4)+1977"}},"xOffset":{"field":"k","type":"nominal","scale":{"domain":["c","p"]}},"y":{"field":"v","type":"quantitative","scale":{"domain":[0,800]},"axis":{"title":"Lâmina (mm)","values":[0,200,400,600,800]}},"color":{"field":"k","type":"nominal","scale":{"domain":["c","p"],"range":["#5B9BD5","#ED7D31"]},"legend":{"title":null,"legendX":289,"legendY":-27,"labelExpr":"datum.value == 'c' ? 'Chuva (mm)' : 'Suplementação (mm)'"}}}},
 {"width":443,"height":135,"data":{"name":"MoradaNova"},"transform":[{"fold":["c","p"],"as":["k","v"]}],"title":{"text":"Morada Nova","dx":-58,"offset":-43},"mark":{"type":"bar"},
  "encoding":{"x":{"field":"i","type":"ordinal","scale":{"paddingInner":0.15,"paddingOuter":0.2},"axis":{"title":"Série histórica (quadra chuvosa)","values":[0,7,14,21,28,35,42,49,56,63,70,77,84,91,98,105,112,119,126,133],"labelExpr":"floor(datum.value/4)+1977"}},"xOffset":{"field":"k","type":"nominal","scale":{"domain":["c","p"]}},"y":{"field":"v","type":"quantitative","scale":{"domain":[0,800]},"axis":{"title":"Lâmina (mm)","values":[0,200,400,600,800]}},"color":{"field":"k","type":"nominal","scale":{"domain":["c","p"],"range":["#5B9BD5","#ED7D31"]},"legend":{"title":null,"padding":2,"legendX":280,"legendY":-34,"labelExpr":"datum.value == 'c' ? 'Chuva (mm)' : 'Suplementação (mm)'"}}}}
 ],"spacing":30,"resolve":{"scale":{"x":"independent","y":"independent","color":"independent","xOffset":"independent"},"legend":{"color":"independent"},"axis":{"x":"independent","y":"independent"}}},
{"width":466,"height":135,"data":{"name":"Taua"},"transform":[{"fold":["c","p"],"as":["k","v"]}],"title":{"text":"Tauá","dx":-34,"offset":-53},"mark":{"type":"bar"},
  "encoding":{"x":{"field":"i","type":"ordinal","scale":{"paddingInner":0.15,"paddingOuter":0.2},"axis":{"title":"Série histórica (quadra chuvosa)","values":[0,7,14,21,28,35,42,49,56,63,70,77,84,91,98,105,112,119,126],"labelExpr":"['1977','1978','1980','1982','1984','1985','1987','1989','1991','1992','1994','1996','1998','2000','2001','2003','2005','2007','2009'][datum.value/7]"}},"xOffset":{"field":"k","type":"nominal","scale":{"domain":["c","p"]}},"y":{"field":"v","type":"quantitative","scale":{"domain":[0,800]},"axis":{"title":"Lâmina (mm)","values":[0,200,400,600,800]}},"color":{"field":"k","type":"nominal","scale":{"domain":["c","p"],"range":["#5B9BD5","#ED7D31"]},"legend":{"title":null,"padding":17,"legendX":267,"legendY":-46,"labelExpr":"datum.value == 'c' ? 'Chuva (mm)' : 'Suplementação (mm)'"}}}}
],
"spacing":23,
"center":true,
"resolve":{"scale":{"x":"independent","y":"independent","color":"independent","xOffset":"independent"},"legend":{"color":"independent"},"axis":{"x":"independent","y":"independent"}}
}
